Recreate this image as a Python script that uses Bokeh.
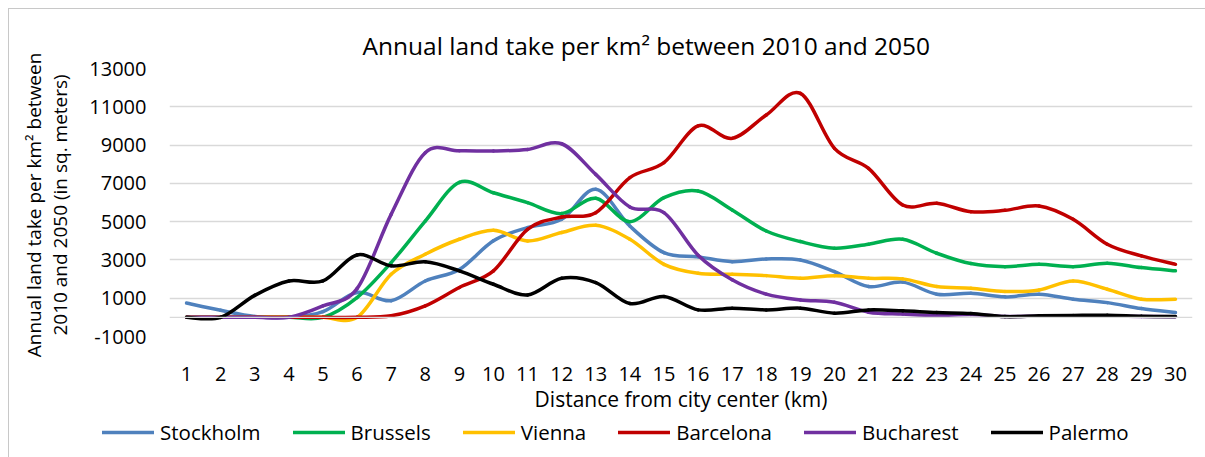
from bokeh.plotting import figure
from bokeh.layouts import column, row
from bokeh.models import (Range1d, FixedTicker, Span, Legend, LegendItem, ColumnDataSource)
from bokeh.embed import file_html
from bokeh.resources import INLINE

# ---------------- data ----------------
distance_km = list(range(1, 31))
x_tick_labels = [str(d) for d in distance_km]
y_ticks = [-1000, 1000, 3000, 5000, 7000, 9000, 11000, 13000]
y_tick_labels = ["-1000", "1000", "3000", "5000", "7000", "9000", "11000", "13000"]

cities = ["Stockholm", "Brussels", "Vienna", "Barcelona", "Bucharest", "Palermo"]
colors = ["#4F81BD", "#00B050", "#FFC000", "#C00000", "#7030A0", "#000000"]

stockholm = [750, 370, 50, 0, 300, 1300, 870, 1900, 2500, 4000, 4690, 5120, 6690, 4770, 3380,
             3160, 2910, 3050, 3000, 2390, 1610, 1840, 1210, 1260, 1070, 1210, 950, 770, 460, 250]
brussels = [0, 0, 0, 0, 0, 1030, 2860, 5030, 7050, 6510, 5990, 5420, 6220, 5000, 6250,
            6600, 5610, 4510, 3960, 3610, 3820, 4080, 3350, 2810, 2650, 2770, 2650, 2830, 2600, 2430]
vienna = [0, 0, 0, 0, 0, 0, 2250, 3300, 4080, 4550, 3990, 4430, 4810, 4080, 2770,
          2300, 2250, 2180, 2040, 2180, 2040, 2010, 1610, 1520, 1350, 1430, 1900, 1470, 950, 950]
barcelona = [0, 0, 0, 0, 0, 0, 80, 600, 1560, 2430, 4600, 5240, 5470, 7300, 8080,
             10000, 9350, 10570, 11700, 8830, 7780, 5870, 5960, 5520, 5590, 5820, 5120, 3820, 3210, 2770]
bucharest = [0, 0, 0, 0, 600, 1500, 5380, 8600, 8700, 8690, 8770, 9070, 7470, 5770, 5470,
             3250, 1960, 1210, 910, 790, 270, 170, 100, 150, 50, 60, 80, 80, 50, 30]
palermo = [0, 0, 1150, 1900, 1900, 3260, 2690, 2900, 2430, 1730, 1170, 2040, 1820, 720, 1090,
           390, 480, 390, 480, 220, 390, 340, 250, 200, 40, 80, 100, 110, 60, 40]
series = [stockholm, brussels, vienna, barcelona, bucharest, palermo]


def smooth_segments(xs, ys, t=1.0 / 6.0):
    """Bezier segments (Excel-like smoothed line) through the data points."""
    n = len(xs)
    d = {k: [] for k in ["x0", "y0", "x1", "y1", "cx0", "cy0", "cx1", "cy1"]}
    for i in range(n - 1):
        a = max(i - 1, 0)
        b = min(i + 2, n - 1)
        d["x0"].append(xs[i]); d["y0"].append(ys[i])
        d["x1"].append(xs[i + 1]); d["y1"].append(ys[i + 1])
        d["cx0"].append(xs[i] + (xs[i + 1] - xs[a]) * t)
        d["cy0"].append(ys[i] + (ys[i + 1] - ys[a]) * t)
        d["cx1"].append(xs[i + 1] - (xs[b] - xs[i]) * t)
        d["cy1"].append(ys[i + 1] - (ys[b] - ys[i]) * t)
    return d


FONT = "Open Sans"
W = 1205
H1 = 415
H2 = 457 - H1

p = figure(width=W, height=H1, output_backend="svg", toolbar_location=None,
           x_range=Range1d(0.5, 30.5), y_range=Range1d(-1000, 13000),
           title="Annual land take per km\u00b2 between 2010 and 2050",
           min_border_left=169, min_border_top=68, min_border_right=13,
           min_border_bottom=H1 - 336)
p.outline_line_color = None
p.background_fill_color = "white"
p.border_fill_alpha = 0

# title
p.title.text_font = FONT
p.title.text_font_size = "24.5px"
p.title.text_font_style = "normal"
p.title.text_color = "#000000"
p.title.align = "left"
p.title.offset = 193
p.title.standoff = 13

# grid
p.xgrid.grid_line_color = None
p.ygrid.grid_line_color = "#D9D9D9"
p.ygrid.grid_line_width = 1.3
p.yaxis.ticker = FixedTicker(ticks=y_ticks)
p.yaxis.major_label_overrides = {t: lab for t, lab in zip(y_ticks, y_tick_labels)}
p.xaxis.ticker = FixedTicker(ticks=distance_km)
p.xaxis.major_label_overrides = {d: lab for d, lab in zip(distance_km, x_tick_labels)}

for ax in (p.xaxis[0], p.yaxis[0]):
    ax.axis_line_color = None
    ax.major_tick_line_color = None
    ax.minor_tick_line_color = None
    ax.major_tick_out = 0
    ax.major_tick_in = 0
    ax.major_label_text_font = FONT
    ax.major_label_text_font_size = "20px"
    ax.major_label_text_color = "#000000"
    ax.axis_label_text_font = FONT
    ax.axis_label_text_font_style = "normal"
    ax.axis_label_text_color = "#000000"
p.yaxis.major_label_standoff = 23
p.xaxis.major_label_standoff = 30

p.xaxis.axis_label = "Distance from city center (km)"
p.xaxis.axis_label_text_font_size = "21px"
p.xaxis.axis_label_standoff = 1

p.yaxis.axis_label = "Annual land take  per km\u00b2 between\n2010 and 2050  (in sq. meters)"
p.yaxis.axis_label_text_font_size = "19px"
p.yaxis.axis_label_text_line_height = 1.0
p.yaxis.axis_label_standoff = 13

# category axis line at zero
p.add_layout(Span(location=0, dimension="width", line_color="#D9D9D9", line_width=1.3))

# smoothed lines
for name, col, ys in zip(cities, colors, series):
    src = ColumnDataSource(smooth_segments(distance_km, ys))
    p.bezier(x0="x0", y0="y0", x1="x1", y1="y1", cx0="cx0", cy0="cy0",
             cx1="cx1", cy1="cy1", source=src, line_color=col, line_width=3.5,
             line_cap="round", line_join="round")

# legend strip (separate figure below the chart)
p2 = figure(width=W, height=H2, output_backend="svg", toolbar_location=None,
            x_range=Range1d(0, W), y_range=Range1d(0, H2),
            x_axis_location=None, y_axis_location=None,
            min_border_left=0, min_border_right=0, min_border_top=0, min_border_bottom=0)
p2.outline_line_color = None
p2.xgrid.grid_line_color = None
p2.ygrid.grid_line_color = None
p2.background_fill_alpha = 0
p2.border_fill_alpha = 0

items = []
for name, col, ys in zip(cities, colors, series):
    # legend proxies: same series, hidden (only their legend swatch is shown)
    r = p2.line(x=distance_km, y=ys, line_color=col, line_width=3.5, line_cap="round",
                visible=False)
    items.append(LegendItem(label=name, renderers=[r]))

legend = Legend(items=items, orientation="horizontal", location=(102, 457 - 446),
                glyph_width=52, glyph_height=20, label_height=20, label_standoff=6,
                spacing=32, padding=0, margin=0, border_line_color=None,
                background_fill_alpha=0, label_text_font=FONT,
                label_text_font_size="20.5px", label_text_color="#000000")
p2.add_layout(legend)

layout = column(p, row(p2, spacing=0), spacing=0)
# light-grey chart-area border (left and top edges), drawn behind the transparent canvases
layout.styles = {
    "background": ("linear-gradient(#C8C8C8, #C8C8C8) 8px 8px / 1px 449px no-repeat, "
                   "linear-gradient(#C8C8C8, #C8C8C8) 8px 8px / 1197px 1px no-repeat, #FFFFFF"),
}
open("out.html", "w").write(file_html(layout, INLINE))
